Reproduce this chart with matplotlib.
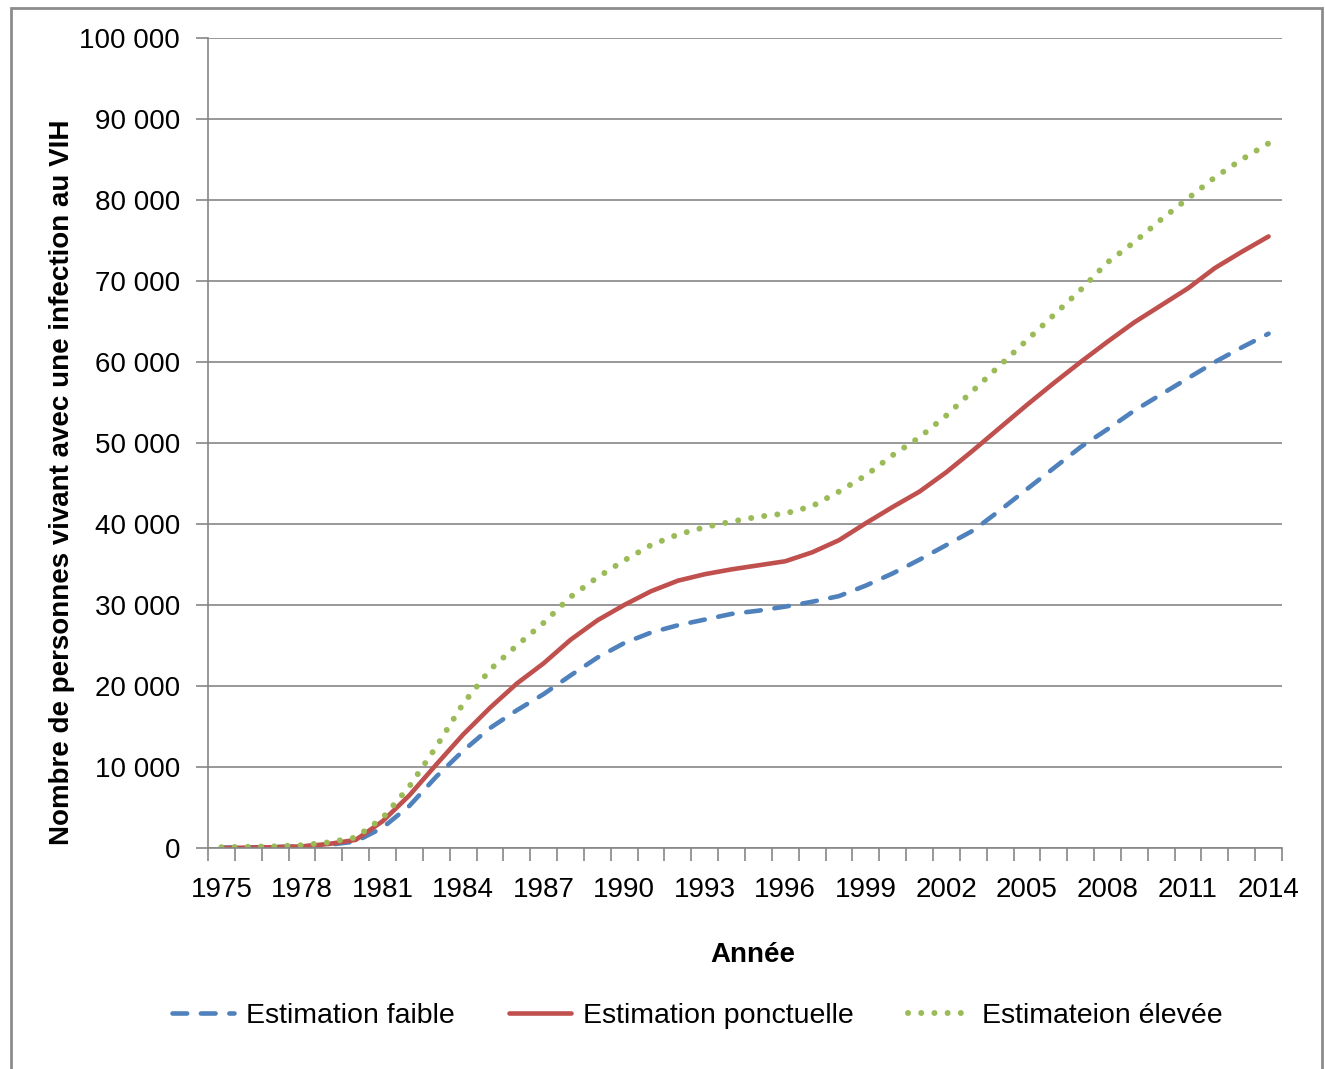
import numpy as np
import matplotlib.pyplot as plt
from matplotlib.patches import Rectangle
from matplotlib.ticker import FuncFormatter

years = list(range(1975, 2015))

# estimations
faible = [50, 80, 120, 200, 400, 800, 2500, 5200, 8800, 12000,
          14800, 17000, 19000, 21300, 23500, 25300, 26600, 27500, 28200, 28900,
          29300, 29800, 30400, 31100, 32400, 33900, 35600, 37400, 39200, 41700,
          44300, 46900, 49500, 51700, 54000, 56000, 58000, 60000, 61800, 63500]
ponctuelle = [0, 50, 100, 200, 500, 1000, 3300, 6500, 10300, 14000,
              17300, 20300, 22800, 25700, 28100, 30000, 31700, 33000, 33800, 34400,
              34900, 35400, 36500, 38000, 40100, 42100, 44000, 46400, 49100, 51900,
              54700, 57400, 60000, 62500, 64900, 67000, 69100, 71600, 73600, 75500]
elevee = [100, 150, 200, 350, 700, 1300, 3700, 7600, 12500, 17800,
          22000, 25000, 27800, 31000, 33400, 35500, 37400, 38700, 39600, 40300,
          40900, 41300, 42200, 44000, 46000, 48500, 50700, 53400, 56500, 59600,
          62700, 65800, 68900, 72300, 74800, 77600, 80200, 82800, 85000, 87000]

label_years = years[::3]

plt.rcParams['font.family'] = ['Liberation Sans', 'DejaVu Sans']

fig = plt.figure(figsize=(13.25, 10.69), dpi=100)
ax = fig.add_axes([208/1325, 1-848/1069, (1282-208)/1325, (848-38)/1069])

x = np.arange(len(years))
ax.plot(x, faible, color='#4F81BD', lw=3.3, linestyle=(0, (3.2, 3.0)),
        dash_capstyle='round', label='Estimation faible')
ax.plot(x, ponctuelle, color='#C0504D', lw=3.3, solid_capstyle='round',
        label='Estimation ponctuelle')
ax.plot(x, elevee, color='#9BBB59', lw=4.3, linestyle=(0, (0.01, 2.2)),
        dash_capstyle='round', label='Estimateion élevée')

ax.set_xlim(-0.5, len(years) - 0.5)
ax.set_ylim(0, 100000)
ax.set_yticks(np.arange(0, 100001, 10000))
ax.yaxis.set_major_formatter(FuncFormatter(lambda v, p: f"{int(v):,}".replace(',', ' ')))
ax.grid(axis='y', color='#868686', lw=1.2)
ax.set_axisbelow(True)

ax.set_xticks([years.index(y) for y in label_years])
ax.set_xticklabels([str(y) for y in label_years])
ax.set_xticks(np.arange(-0.5, len(years)), minor=True)
ax.tick_params(axis='x', which='major', length=0, pad=21, labelsize=20)
ax.tick_params(axis='x', which='minor', length=9, width=1.2, color='#868686')
ax.tick_params(axis='y', length=9, width=1.2, color='#868686', pad=11, labelsize=20)

for s in ['top', 'right']:
    ax.spines[s].set_visible(False)
for s in ['left', 'bottom']:
    ax.spines[s].set_color('#868686')
    ax.spines[s].set_linewidth(1.2)

ax.set_ylabel('Nombre de personnes vivant avec une infection au VIH',
              fontsize=20, fontweight='bold')
ax.yaxis.set_label_coords(-0.124, 0.452)
ax.set_xlabel('Année', fontsize=20, fontweight='bold')
ax.xaxis.set_label_coords(0.507, -0.116)

fig.legend(loc='center', bbox_to_anchor=(697/1325, 1-1016/1069), ncol=3,
           frameon=False, fontsize=20.5, handlelength=2.2, handletextpad=0.4,
           columnspacing=1.9)

fig.patches.append(Rectangle((11/1325, -0.02), (1322-11)/1325, 1.02-8/1069,
                             transform=fig.transFigure, fill=False,
                             edgecolor='#8c8c8c', lw=2))

fig.savefig('out.png', dpi=100)
